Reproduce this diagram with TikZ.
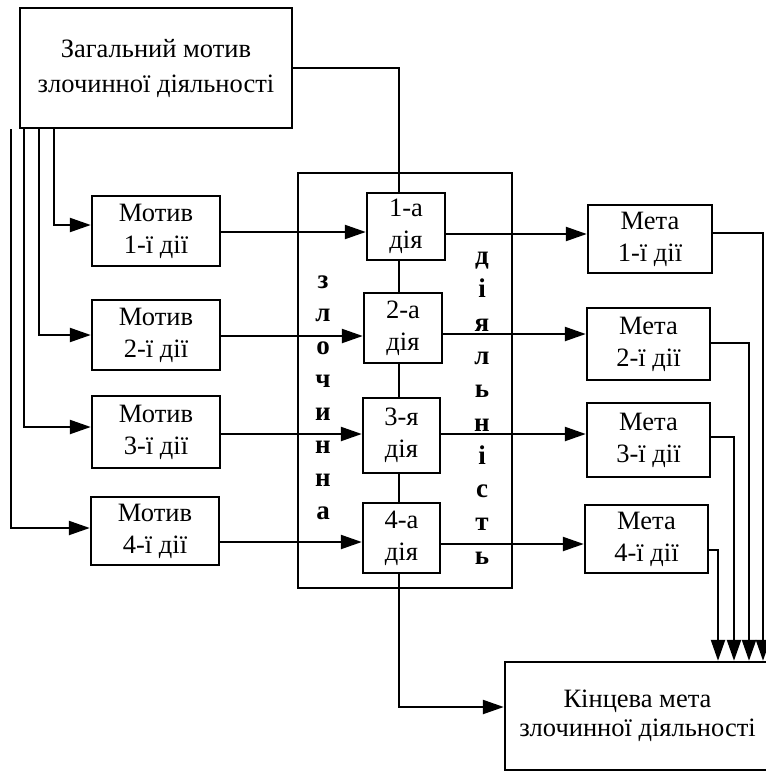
\documentclass[tikz,border=0pt]{standalone}
\usepackage{fontspec}
\setmainfont{Liberation Serif}
\usetikzlibrary{arrows.meta}
\begin{document}
\begin{tikzpicture}[x=1pt,y=-1pt,
  box/.style={draw,line width=2.4pt,align=center,inner sep=0pt,font=\fontsize{26.5}{32}\selectfont},
  ln/.style={line width=2.3pt},
  arr/.style={ln,-{Triangle[length=21pt,width=14pt]}},
  vtxt/.style={font=\fontsize{27}{27}\selectfont\bfseries,text height=13pt,text depth=0pt,inner sep=0pt}
]
\useasboundingbox (0,0) rectangle (765,773);
% boxes
\node[box,minimum width=272pt,minimum height=120pt,font=\fontsize{26.5}{35}\selectfont] (T) at (156,68) {Загальний мотив\\злочинної діяльності};
\node[box,minimum width=128pt,minimum height=70pt] (M1) at (156,231) {Мотив\\1-ї дії};
\node[box,minimum width=128pt,minimum height=70pt] (M2) at (156,335) {Мотив\\2-ї дії};
\node[box,minimum width=128pt,minimum height=72pt] (M3) at (156,432) {Мотив\\3-ї дії};
\node[box,minimum width=128pt,minimum height=68pt] (M4) at (155,531) {Мотив\\4-ї дії};
\node[box,minimum width=214pt,minimum height=415pt] (O) at (405,380.5) {};
\node[box,minimum width=78pt,minimum height=67pt] (A1) at (406,226.5) {1-а\\дія};
\node[box,minimum width=78pt,minimum height=70pt] (A2) at (403,328) {2-а\\дія};
\node[box,minimum width=77pt,minimum height=75pt] (A3) at (401.5,435.5) {3-я\\дія};
\node[box,minimum width=77pt,minimum height=70pt] (A4) at (401.5,538) {4-а\\дія};
\node[box,minimum width=124pt,minimum height=68pt] (E1) at (650,239) {Мета\\1-ї дії};
\node[box,minimum width=123pt,minimum height=72pt] (E2) at (648.5,344) {Мета\\2-ї дії};
\node[box,minimum width=123pt,minimum height=74pt] (E3) at (648.5,440) {Мета\\3-ї дії};
\node[box,minimum width=123pt,minimum height=68pt] (E4) at (646.5,539) {Мета\\4-ї дії};
\node[box,minimum width=265pt,minimum height=108pt,font=\fontsize{26.5}{29}\selectfont] (F) at (637.5,716) {Кінцева мета\\злочинної діяльності};
% vertical words
\foreach \l [count=\i] in {з,л,о,ч,и,н,н,а}
  \node[vtxt] (zl\i) at (323,282+33*\i-33) {\l};
\foreach \l [count=\i] in {д,і,я,л,ь,н,і,с,т,ь}
  \node[vtxt] (di\i) at (482,258+33.3*\i-33.3) {\l};
% helper coordinates
\coordinate (sp) at (399,0);
\coordinate (fin) at (0,707);
\coordinate (r1) at (0,232);
\coordinate (r2) at (0,336);
\coordinate (r3) at (0,434);
\coordinate (r4) at (0,542);
\coordinate (g1) at (0,234);
\coordinate (g2) at (0,334);
\coordinate (g3) at (0,434);
\coordinate (g4) at (0,544);
\coordinate (f1) at (54,225);
\coordinate (f2) at (39,335);
\coordinate (f3) at (24,427);
\coordinate (f4) at (11,528);
\coordinate (c1) at (763,233);
\coordinate (c2) at (749,343);
\coordinate (c3) at (734,437);
\coordinate (c4) at (718,550);
% spine
\draw[ln] (T.east) -| (A1.north -| sp);
\draw[ln] (A1.south -| sp) -- (A2.north -| sp);
\draw[ln] (A2.south -| sp) -- (A3.north -| sp);
\draw[ln] (A3.south -| sp) -- (A4.north -| sp);
\draw[arr] (A4.south -| sp) |- (F.west |- fin);
% feeds
\foreach \i in {1,2,3,4}
  \draw[arr] (T.south -| f\i) |- (M\i.west |- f\i);
% motive -> action
\foreach \i in {1,2,3,4}
  \draw[arr] (M\i.east |- r\i) -- (A\i.west |- r\i);
% action -> goal
\foreach \i in {1,2,3,4}
  \draw[arr] (A\i.east |- g\i) -- (E\i.west |- g\i);
% goals -> final
\foreach \i in {1,2,3,4}
  \draw[arr] (E\i.east |- c\i) -| (F.north -| c\i);
\end{tikzpicture}
\end{document}
